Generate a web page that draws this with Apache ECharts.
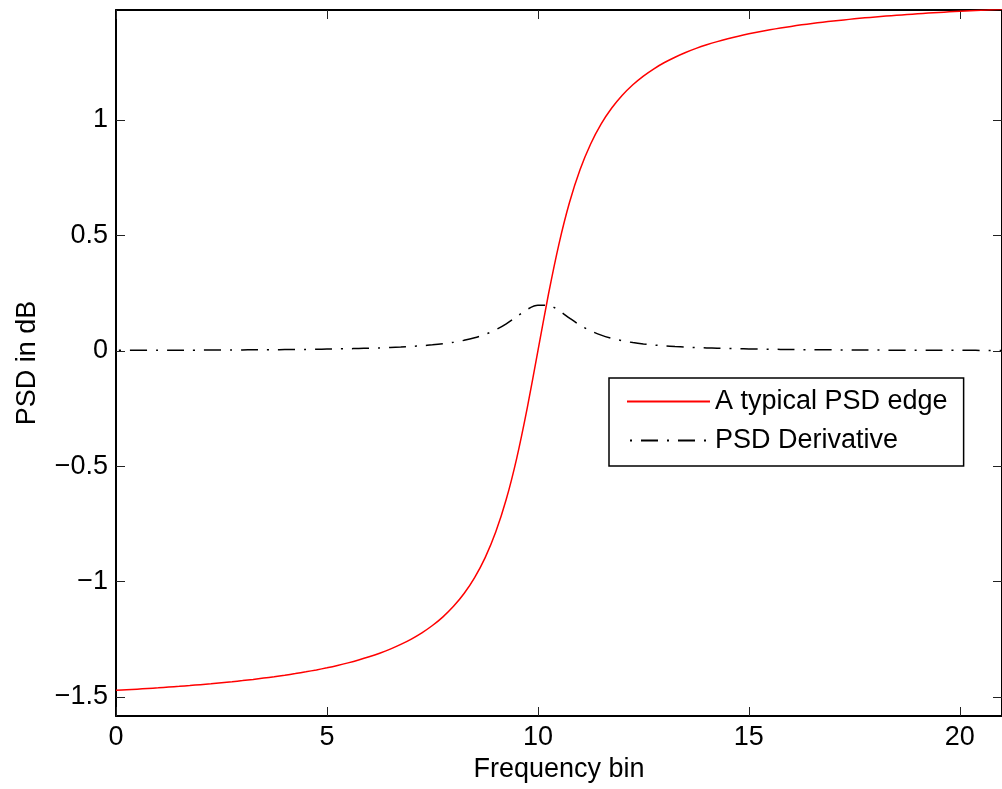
<!DOCTYPE html>
<html>
<head>
<meta charset="utf-8">
<script src="https://cdn.jsdelivr.net/npm/echarts@6/dist/echarts.min.js"></script>
<style>
html,body{margin:0;padding:0;background:#fff;}
#chart{width:1002px;height:789px;}
</style>
</head>
<body>
<div id="chart"></div>
<script>
// ---- data ----
var xs = [0,0.25,0.5,0.75,1,1.25,1.5,1.75,2,2.25,2.5,2.75,3,3.25,3.5,3.75,4,4.25,4.5,4.75,5,5.25,5.5,5.75,6,6.25,6.5,6.75,7,7.25,7.5,7.75,8,8.25,8.5,8.75,9,9.25,9.5,9.75,10,10.25,10.5,10.75,11,11.25,11.5,11.75,12,12.25,12.5,12.75,13,13.25,13.5,13.75,14,14.25,14.5,14.75,15,15.25,15.5,15.75,16,16.25,16.5,16.75,17,17.25,17.5,17.75,18,18.25,18.5,18.75,19,19.25,19.5,19.75,20,20.25,20.5,20.75,21];
var psdEdge = [-1.4711,-1.4686,-1.4659,-1.4631,-1.4601,-1.4570,-1.4537,-1.4502,-1.4464,-1.4425,-1.4382,-1.4337,-1.4289,-1.4237,-1.4181,-1.4122,-1.4056,-1.3986,-1.3909,-1.3826,-1.3734,-1.3633,-1.3521,-1.3397,-1.3258,-1.3102,-1.2925,-1.2721,-1.2490,-1.2220,-1.1903,-1.1526,-1.1071,-1.0517,-0.9828,-0.8961,-0.7854,-0.6435,-0.4636,-0.2450,0.0000,0.2450,0.4636,0.6435,0.7854,0.8961,0.9828,1.0517,1.1071,1.1526,1.1903,1.2220,1.2490,1.2721,1.2925,1.3102,1.3258,1.3397,1.3521,1.3633,1.3734,1.3826,1.3909,1.3986,1.4056,1.4122,1.4181,1.4237,1.4289,1.4337,1.4382,1.4425,1.4464,1.4502,1.4537,1.4570,1.4601,1.4631,1.4659,1.4686,1.4711,1.4736,1.4759,1.4781,1.4801];
var psdDeriv = [0.00194,0.00204,0.00215,0.00226,0.00239,0.00252,0.00267,0.00283,0.00300,0.00319,0.00340,0.00364,0.00389,0.00417,0.00449,0.00484,0.00524,0.00568,0.00618,0.00675,0.00741,0.00816,0.00903,0.01005,0.01124,0.01265,0.01434,0.01638,0.01887,0.02195,0.02581,0.03071,0.03704,0.04533,0.05634,0.07111,0.09091,0.1168,0.1481,0.1798,0.1970,0.1970,0.1739,0.1416,0.1111,0.0865,0.0678,0.0539,0.0435,0.0356,0.0296,0.0250,0.0213,0.01833,0.01594,0.01398,0.01235,0.01098,0.00983,0.00885,0.00800,0.00727,0.00663,0.00608,0.00559,0.00515,0.00477,0.00442,0.00412,0.00384,0.00359,0.00336,0.00315,0.00297,0.00280,0.00264,0.00249,0.00236,0.00224,0.00213,0.00202,0.00192,0.00183,0.00175,0.00167];
var xTicks = [0,5,10,15,20];
var yTicks = [-1.5,-1,-0.5,0,0.5,1];
var seriesNames = ['A typical PSD edge','PSD Derivative'];

var FONT = '"Liberation Sans", Arial, Helvetica, sans-serif';
function pairs(x, y){ var out=[]; for (var i=0;i<x.length;i++) out.push([x[i], y[i]]); return out; }
function fmt(v){ return String(v).replace('-', '\u2212'); }

var chart = echarts.init(document.getElementById('chart'), null, {renderer:'canvas'});

var axisLineStyle = {color:'#000', width:2};
var tickStyle = {color:'#222', width:1};

var option = {
  backgroundColor:'#fff',
  animation:false,
  grid:{left:116, top:10, width:894, height:706, containLabel:false},
  xAxis:[{
    type:'value', min:0, max:21, position:'bottom',
    name:'Frequency bin', nameLocation:'middle', nameGap:40,
    nameTextStyle:{fontFamily:FONT, fontSize:27, color:'#000'},
    axisLine:{show:true, onZero:false, lineStyle:axisLineStyle},
    axisTick:{show:true, inside:true, length:9, lineStyle:tickStyle, customValues:xTicks},
    axisLabel:{show:true, margin:8, fontFamily:FONT, fontSize:27, color:'#000', customValues:xTicks, formatter:fmt},
    splitLine:{show:false}
  },{
    type:'value', min:0, max:21, position:'top',
    axisLine:{show:true, onZero:false, lineStyle:axisLineStyle},
    axisTick:{show:true, inside:true, length:9, lineStyle:tickStyle, customValues:xTicks},
    axisLabel:{show:false},
    splitLine:{show:false}
  }],
  yAxis:[{
    type:'value', min:-1.5823, max:1.4766, position:'left',
    name:'PSD in dB', nameLocation:'middle', nameGap:75, nameRotate:90,
    nameTextStyle:{fontFamily:FONT, fontSize:27, color:'#000'},
    axisLine:{show:true, onZero:false, lineStyle:axisLineStyle},
    axisTick:{show:true, inside:true, length:9, lineStyle:tickStyle, customValues:yTicks},
    axisLabel:{show:true, margin:8, fontFamily:FONT, fontSize:27, color:'#000', customValues:yTicks, formatter:fmt},
    splitLine:{show:false}
  },{
    type:'value', min:-1.5823, max:1.4766, position:'right',
    axisLine:{show:true, onZero:false, lineStyle:axisLineStyle},
    axisTick:{show:true, inside:true, length:9, lineStyle:tickStyle, customValues:yTicks},
    axisLabel:{show:false},
    splitLine:{show:false}
  }],
  legend:{
    orient:'vertical', left:609, top:378,
    padding:[10,16,12,17], itemGap:12,
    itemWidth:83, itemHeight:14,
    borderColor:'#000', borderWidth:1.5, backgroundColor:'#fff',
    itemStyle:{opacity:0},
    textStyle:{fontFamily:FONT, fontSize:27, color:'#000'},
    data:seriesNames
  },
  series:[{
    name:seriesNames[0], type:'line', xAxisIndex:0, yAxisIndex:0,
    data:pairs(xs, psdEdge), symbol:'none', showSymbol:false,
    smooth:0.3,
    lineStyle:{color:'#ff0000', width:1.5},
    itemStyle:{color:'#ff0000'}
  },{
    name:seriesNames[1], type:'line', xAxisIndex:0, yAxisIndex:0,
    data:pairs(xs, psdDeriv), symbol:'none', showSymbol:false,
    smooth:0.3,
    lineStyle:{color:'#000', width:1.5, type:[17,9,2,9], dashOffset:23},
    itemStyle:{color:'#000'}
  }]
};
chart.setOption(option);
</script>
</body>
</html>
